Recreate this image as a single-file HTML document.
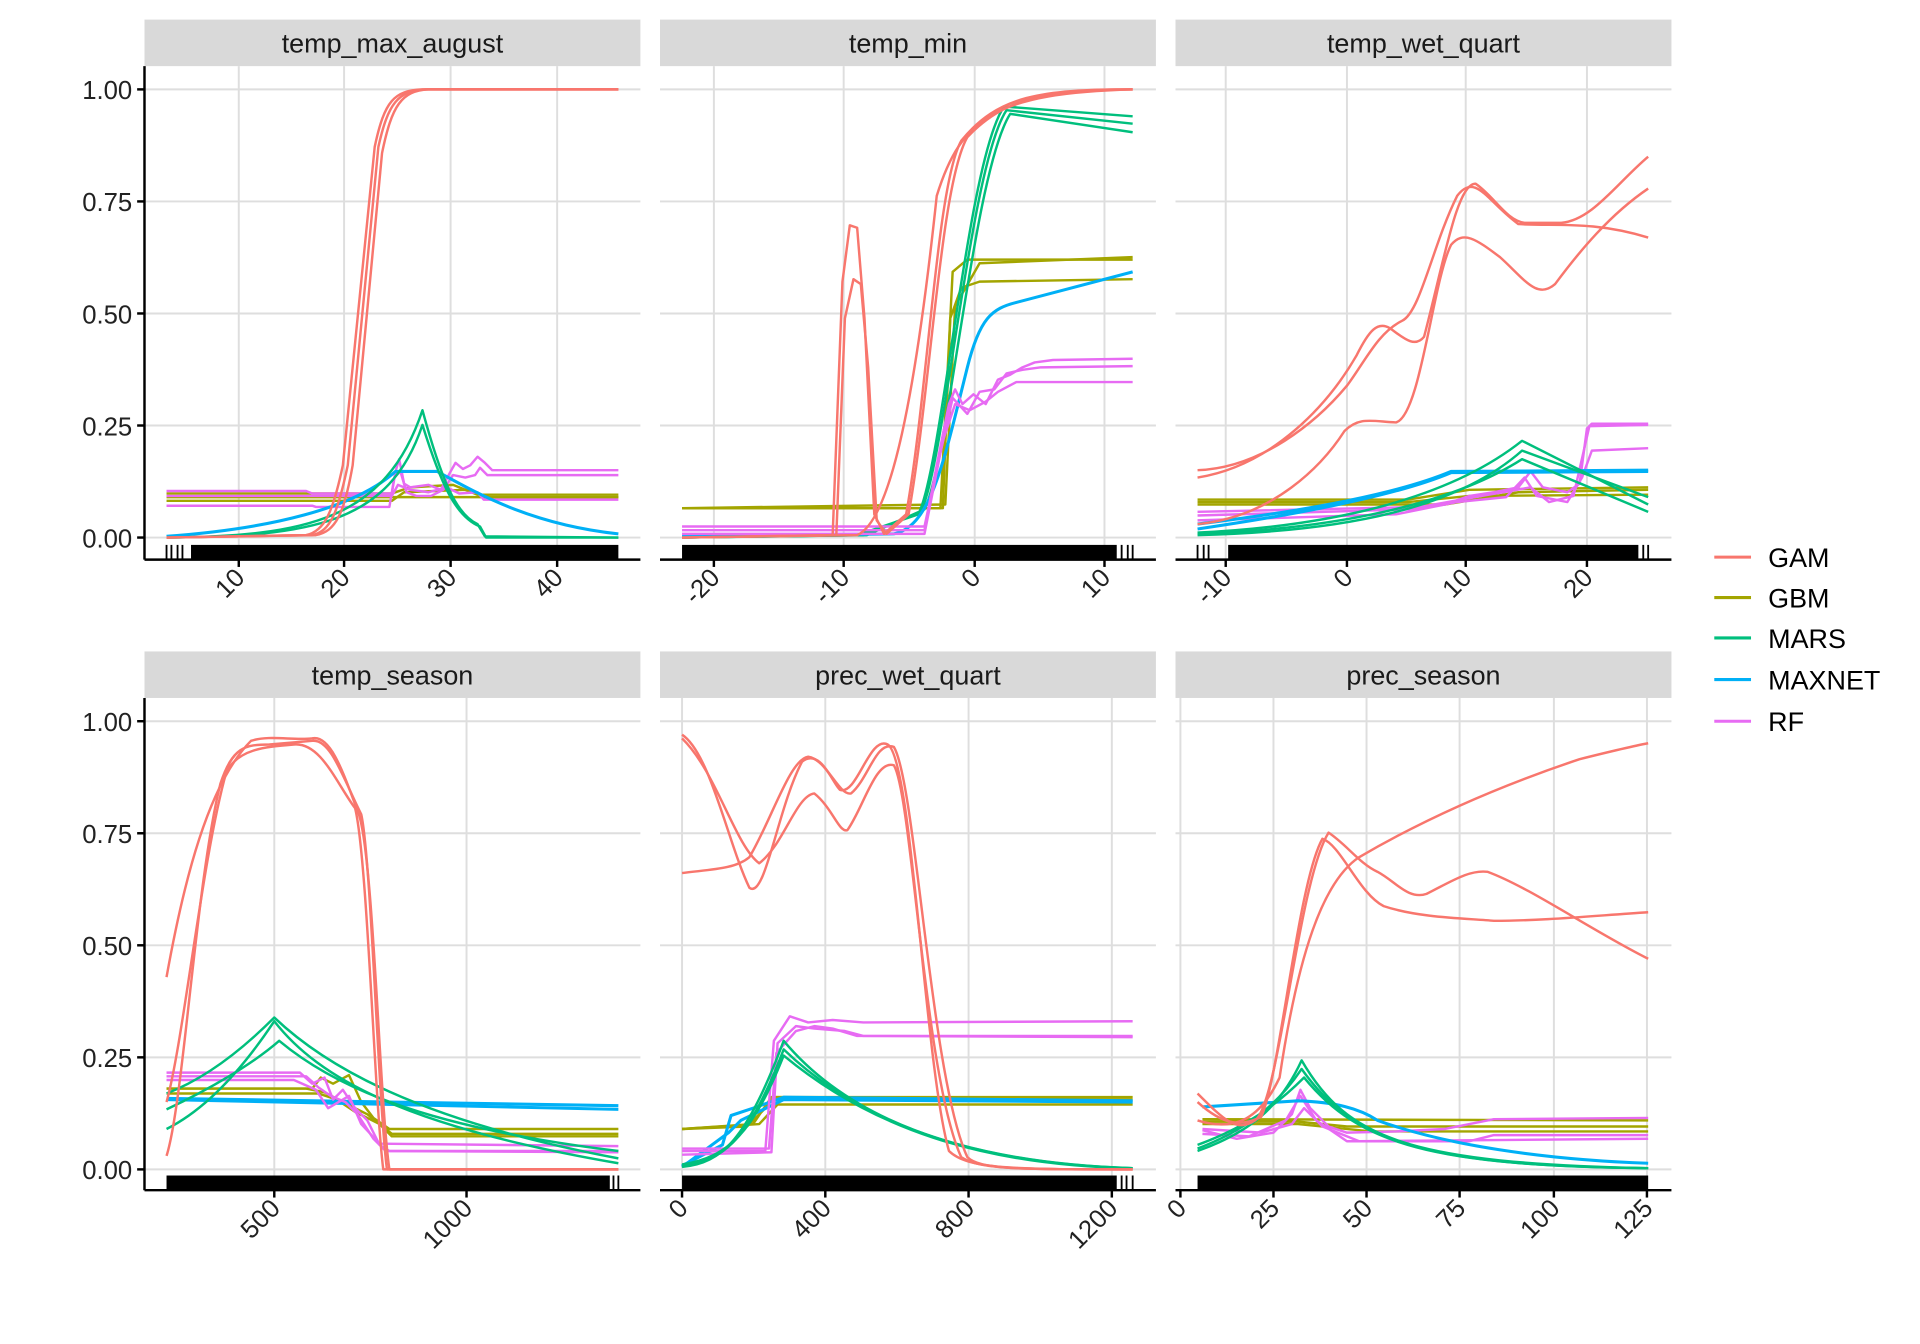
<!DOCTYPE html>
<html><head><meta charset="utf-8"><style>
html,body{margin:0;padding:0;background:#fff;}
svg{display:block;font-family:"Liberation Sans",sans-serif;}
</style></head><body>
<svg id="s" width="1920" height="1344" viewBox="0 0 1568 1097.6" preserveAspectRatio="none" xmlns="http://www.w3.org/2000/svg">
<rect width="1568" height="1098" fill="#fff"/>
<g id="axes"></g>
<g fill="none" stroke-width="2" stroke-linejoin="round">
<!-- Panel 1 -->
<g stroke="#A3A500"><path d="M136,406 L505,406"/><path d="M136,409 L320,409 L330,402 L380,400 L400,406 L505,406"/><path d="M136,403 L320,403 L335,398 L370,396 L390,404 L505,404"/></g>
<g stroke="#E76BF3"><path d="M136,401 L250,401 L255,403 L320,403 L323,385 L326,375 L330,395 L335,398 L350,396 L360,400 L368,385 L372,378 L378,383 L384,380 L390,373 L396,378 L402,384 L505,384"/><path d="M136,413 L255,413 L258,414 L318,414 L322,390 L327,385 L332,402 L340,405 L352,405 L362,400 L370,388 L380,390 L388,388 L392,382 L398,388 L505,388"/><path d="M136,405 L320,405 L325,396 L335,400 L350,402 L365,398 L375,403 L390,402 L395,408 L505,408"/></g>
<g stroke="#00B0F6" stroke-width="2.5"><path d="M136,438 C220,432 290,415 323,385 L357,385 C385,400 430,428 505,436"/></g>
<g stroke="#00BF7D"><path d="M136,439 C250,438 315,425 345,335 C360,390 372,420 390,428 L396,438 L505,439"/><path d="M136,439 C255,438 318,428 345,347 C360,395 372,422 392,430 L397,439 L505,439"/></g>
<g stroke="#F8766D"><path d="M136,439 L250,437 C265,434 272,418 280,380 L306,120 C314,82 322,74 345,73 L505,73"/><path d="M136,439 L255,437 C270,434 276,418 284,380 L309,120 C317,84 325,74 348,73 L505,73"/><path d="M136,439 L258,437 C274,434 281,420 288,380 L312,125 C320,86 328,74 350,73 L505,73"/></g>
<!-- Panel 2 -->
<g stroke="#A3A500"><path d="M557,415 L768,415 L774,300 L778,222 L790,212 L925,212"/><path d="M557,415 L770,415 L776,260 L785,235 L800,230 L925,228"/><path d="M557,415 L772,412 L780,250 L800,215 L925,210"/></g>
<g stroke="#00BF7D"><path d="M557,439 L700,437 L750,420 C770,380 790,130 820,87 L925,95"/><path d="M557,439 L705,437 L752,418 C772,378 792,135 822,90 L925,101"/><path d="M557,439 L708,437 L755,416 C775,376 795,140 825,93 L925,108"/></g>
<g stroke="#00B0F6" stroke-width="2.5"><path d="M557,438 L730,436 C760,430 770,380 790,300 C800,260 810,252 830,247 L925,222"/></g>
<g stroke="#E76BF3"><path d="M557,433 L755,433 L765,380 L775,330 L780,318 L786,330 L795,322 L805,330 L815,310 L825,306 L835,300 L845,296 L860,294 L925,293"/><path d="M557,436 L755,436 L768,370 L778,325 L790,338 L800,320 L812,318 L822,305 L835,302 L850,300 L925,299"/><path d="M557,430 L755,430 L770,360 L780,330 L792,335 L805,328 L815,320 L830,312 L850,312 L925,312"/></g>
<g stroke="#F8766D"><path d="M557,439 L680,437 L688,230 L694,184 L700,186 L706,260 L714,420 L722,436 L740,420 C758,320 765,150 785,115 C815,78 850,73 925,73"/><path d="M557,439 L683,437 L690,260 L697,228 L703,232 L709,300 L716,425 L724,436 L742,420 C760,320 768,150 790,112 C820,80 855,73 925,73"/><path d="M557,439 L700,437 C728,425 748,320 765,160 C785,95 815,76 925,73"/></g>
<!-- Panel 3 -->
<g stroke="#A3A500"><path d="M978,410 L1150,410 L1200,405 L1346,404"/><path d="M978,408 L1150,408 L1200,400 L1346,398"/><path d="M978,412 L1180,412 L1240,402 L1346,400"/></g>
<g stroke="#E76BF3"><path d="M978,421 L1150,416 L1180,412 L1200,405 L1220,402 L1240,398 L1250,385 L1260,398 L1280,402 L1290,395 L1296,350 L1300,346 L1346,346"/><path d="M978,425 L1140,420 L1190,410 L1230,406 L1245,390 L1255,405 L1280,410 L1292,390 L1300,368 L1346,366"/><path d="M978,418 L1160,414 L1210,405 L1250,398 L1265,410 L1285,405 L1298,348 L1346,347"/></g>
<g stroke="#00B0F6" stroke-width="2.5"><path d="M978,432 C1060,420 1140,405 1185,386 L1346,385"/><path d="M978,428 C1060,418 1140,404 1185,385 L1346,384"/></g>
<g stroke="#00BF7D"><path d="M978,435 C1080,430 1180,410 1243,360 L1346,412"/><path d="M978,436 C1090,432 1185,412 1243,375 L1346,418"/><path d="M978,437 C1100,434 1190,415 1243,368 L1346,406"/></g>
<g stroke="#F8766D"><path d="M978,384 C1030,382 1075,345 1100,315 C1115,295 1125,272 1145,262 C1160,255 1170,200 1190,160 C1205,140 1215,165 1240,183 C1270,185 1300,180 1346,194"/><path d="M978,390 C1040,380 1085,330 1108,290 C1118,270 1125,262 1135,268 C1145,275 1155,285 1163,275 C1180,210 1190,150 1205,150 C1220,160 1230,180 1245,182 L1275,182 C1300,180 1320,150 1346,128"/><path d="M978,428 C1040,422 1080,380 1098,352 C1110,340 1120,344 1140,345 C1160,340 1170,230 1185,200 C1195,188 1205,195 1225,210 C1245,228 1255,245 1270,232 C1290,205 1315,175 1346,154"/></g>
<!-- Panel 4 -->
<g stroke="#A3A500"><path d="M136,889 L255,889 L262,880 L272,885 L285,878 L295,900 L305,913 L318,922 L505,922"/><path d="M136,889 L250,889 L265,892 L280,900 L300,910 L320,926 L505,926"/><path d="M136,893 L260,893 L275,898 L290,908 L310,918 L320,928 L505,928"/></g>
<g stroke="#00B0F6" stroke-width="2.5"><path d="M136,898 L505,906"/><path d="M136,897 L505,903"/></g>
<g stroke="#E76BF3"><path d="M136,876 L245,876 L255,885 L265,880 L272,898 L280,890 L290,905 L300,915 L310,935 L318,940 L505,940"/><path d="M136,879 L250,879 L260,888 L270,895 L282,900 L292,910 L305,930 L315,940 L505,941"/><path d="M136,882 L240,882 L258,890 L268,905 L285,895 L295,918 L310,934 L505,936"/></g>
<g stroke="#00BF7D"><path d="M136,922 C170,905 200,870 224,834 C260,880 330,920 505,950"/><path d="M136,893 C170,880 200,855 224,831 C265,870 340,915 505,946"/><path d="M136,906 C170,890 205,870 228,850 C270,885 340,920 505,940"/></g>
<g stroke="#F8766D"><path d="M136,798 C150,720 170,640 205,605 C220,600 240,605 255,603 C270,600 280,630 293,665 C305,700 310,900 318,955 L505,955"/><path d="M136,944 C150,900 160,720 180,640 C190,610 200,608 220,608 L255,605 C270,603 280,635 295,665 C303,700 309,900 316,955 L505,955"/><path d="M136,900 C150,850 165,700 185,630 C195,612 215,610 240,608 C262,606 275,640 290,660 C300,700 306,900 313,955 L505,955"/></g>
<!-- Panel 5 -->
<g stroke="#A3A500"><path d="M557,922 L610,920 L625,905 L632,896 L925,898"/><path d="M557,922 L615,918 L630,896 L925,896"/><path d="M557,922 L620,918 L635,902 L925,902"/></g>
<g stroke="#00B0F6" stroke-width="2.5"><path d="M557,952 L590,935 L597,911 L615,905 L640,896 L925,899"/><path d="M557,953 L595,925 L605,915 L640,898 L925,900"/></g>
<g stroke="#E76BF3"><path d="M557,940 L625,940 L632,850 L645,830 L660,835 L680,833 L705,835 L925,834"/><path d="M557,943 L630,941 L635,852 L650,838 L665,840 L690,842 L705,846 L925,846"/><path d="M557,938 L628,938 L634,860 L650,842 L665,838 L680,840 L700,846 L925,847"/></g>
<g stroke="#00BF7D"><path d="M557,953 C590,950 610,930 640,850 C690,910 780,950 925,954"/><path d="M557,952 C592,948 612,930 640,857 C700,915 790,950 925,954"/><path d="M557,951 C595,945 615,925 640,862 C710,920 800,952 925,954"/></g>
<g stroke="#F8766D"><path d="M557,600 C580,615 595,690 612,725 C625,735 635,660 655,622 C670,610 680,640 686,645 C700,650 710,600 725,608 C745,620 755,870 775,940 C790,955 830,955 925,955"/><path d="M557,713 C580,710 600,710 612,700 C630,670 645,620 660,618 C675,620 685,650 695,648 C710,635 715,605 730,610 C748,640 760,880 790,945 C800,955 830,955 925,955"/><path d="M557,603 C585,630 600,690 620,705 C640,690 650,650 665,648 C680,660 685,680 692,678 C705,660 715,620 730,625 C745,650 755,880 785,945 C800,955 830,955 925,955"/></g>
<!-- Panel 6 -->
<g stroke="#A3A500"><path d="M982,914 L1346,915"/><path d="M982,916 L1060,916 L1100,920 L1346,920"/><path d="M982,918 L1060,918 L1120,924 L1346,924"/></g>
<g stroke="#E76BF3"><path d="M982,923 L1010,930 L1040,925 L1055,910 L1062,890 L1070,905 L1085,920 L1100,925 L1140,924 L1180,922 L1200,918 L1220,914 L1346,913"/><path d="M982,926 L1020,928 L1050,915 L1062,895 L1075,915 L1100,932 L1200,932 L1220,927 L1346,927"/><path d="M982,922 L1030,925 L1055,918 L1065,905 L1080,920 L1110,932 L1346,930"/></g>
<g stroke="#00B0F6" stroke-width="2.5"><path d="M982,904 L1060,899 C1090,900 1110,905 1125,915 C1180,935 1260,947 1346,950"/></g>
<g stroke="#00BF7D"><path d="M978,940 C1020,925 1045,905 1063,866 C1100,930 1150,950 1346,954"/><path d="M978,938 C1020,922 1045,900 1063,873 C1105,932 1160,952 1346,954"/><path d="M978,935 C1025,918 1050,895 1065,880 C1110,935 1170,952 1346,954"/></g>
<g stroke="#F8766D"><path d="M978,893 C1000,915 1010,925 1025,915 C1045,900 1060,720 1085,680 C1100,690 1110,705 1125,712 C1140,720 1150,735 1165,730 C1185,720 1200,710 1215,712 C1250,725 1300,760 1346,783"/><path d="M978,900 C1000,920 1015,920 1030,912 C1045,880 1060,720 1080,685 C1095,690 1110,730 1130,740 C1160,750 1200,750 1220,752 C1260,752 1300,748 1346,745"/><path d="M978,915 C1010,925 1030,912 1045,880 C1060,780 1080,720 1110,700 C1170,665 1230,640 1290,620 C1310,615 1330,610 1346,607"/></g>
</g>
<!-- Legend -->
<g font-size="22" fill="#000">
<line x1="1400" y1="455" x2="1430" y2="455" stroke="#F8766D" stroke-width="2.5"/><text x="1444" y="463">GAM</text>
<line x1="1400" y1="488" x2="1430" y2="488" stroke="#A3A500" stroke-width="2.5"/><text x="1444" y="496">GBM</text>
<line x1="1400" y1="521" x2="1430" y2="521" stroke="#00BF7D" stroke-width="2.5"/><text x="1444" y="529">MARS</text>
<line x1="1400" y1="555" x2="1430" y2="555" stroke="#00B0F6" stroke-width="2.5"/><text x="1444" y="563">MAXNET</text>
<line x1="1400" y1="589" x2="1430" y2="589" stroke="#E76BF3" stroke-width="2.5"/><text x="1444" y="597">RF</text>
</g>
</svg>
<script>
(function(){
var NS="http://www.w3.org/2000/svg",g=document.getElementById("axes");
function el(t,a,txt){var e=document.createElementNS(NS,t);for(var k in a)e.setAttribute(k,a[k]);if(txt!=null)e.textContent=txt;g.appendChild(e);return e;}
var rows=[{st:16,y1:73,y0:439,ax:457},{st:532,y1:589,y0:955,ax:972}];
var cols=[118,539,960];
var panels=[
 {r:0,c:0,t:"temp_max_august",ticks:[[195,"10"],[281,"20"],[368,"30"],[455,"40"]],rug:[156,505],extra:[136,140,145,149]},
 {r:0,c:1,t:"temp_min",ticks:[[583,"-20"],[689,"-10"],[796,"0"],[902,"10"]],rug:[557,912],extra:[916,921,925]},
 {r:0,c:2,t:"temp_wet_quart",ticks:[[1001,"-10"],[1100,"0"],[1197,"10"],[1296,"20"]],rug:[1003,1338],extra:[978,983,987,1342,1346]},
 {r:1,c:0,t:"temp_season",ticks:[[224,"500"],[381,"1000"]],rug:[136,498],extra:[501,505]},
 {r:1,c:1,t:"prec_wet_quart",ticks:[[557,"0"],[674,"400"],[791,"800"],[908,"1200"]],rug:[557,912],extra:[916,920,925]},
 {r:1,c:2,t:"prec_season",ticks:[[964,"0"],[1040,"25"],[1116,"50"],[1192,"75"],[1269,"100"],[1345,"125"]],rug:[978,1346],extra:[]}
];
panels.forEach(function(p){
 var R=rows[p.r],x0=cols[p.c],x1=x0+405;
 el("rect",{x:x0,y:R.st,width:405,height:38,fill:"#d9d9d9"});
 el("text",{x:x0+202.5,y:R.st+27,"text-anchor":"middle","font-size":22,fill:"#1a1a1a"},p.t);
 [0,0.25,0.5,0.75,1].forEach(function(v){var y=R.y0-366*v;el("line",{x1:x0,x2:x1,y1:y,y2:y,stroke:"#dedede","stroke-width":1.6});});
 p.ticks.forEach(function(t){el("line",{x1:t[0],x2:t[0],y1:R.st+38,y2:R.ax,stroke:"#dedede","stroke-width":1.6});});
 el("rect",{x:p.rug[0],y:R.ax-12,width:p.rug[1]-p.rug[0],height:12,fill:"#000"});
 p.extra.forEach(function(x){el("line",{x1:x,x2:x,y1:R.ax-12,y2:R.ax,stroke:"#000","stroke-width":1.5});});
 el("line",{x1:x0,x2:x1,y1:R.ax,y2:R.ax,stroke:"#000","stroke-width":2});
 p.ticks.forEach(function(t){el("line",{x1:t[0],x2:t[0],y1:R.ax,y2:R.ax+6,stroke:"#000","stroke-width":2});
  el("text",{x:t[0]+6,y:R.ax+16,"text-anchor":"end","font-size":21,fill:"#222",transform:"rotate(-45 "+(t[0]+6)+" "+(R.ax+16)+")"},t[1]);});
 if(p.c==0){
  el("line",{x1:x0,x2:x0,y1:R.st+38,y2:R.ax,stroke:"#000","stroke-width":2});
  [0,0.25,0.5,0.75,1].forEach(function(v){var y=R.y0-366*v;el("line",{x1:x0-6,x2:x0,y1:y,y2:y,stroke:"#000","stroke-width":2});
   el("text",{x:x0-10,y:y+8,"text-anchor":"end","font-size":21,fill:"#222"},v.toFixed(2));});
 }
});
})();
</script>
</body></html>
